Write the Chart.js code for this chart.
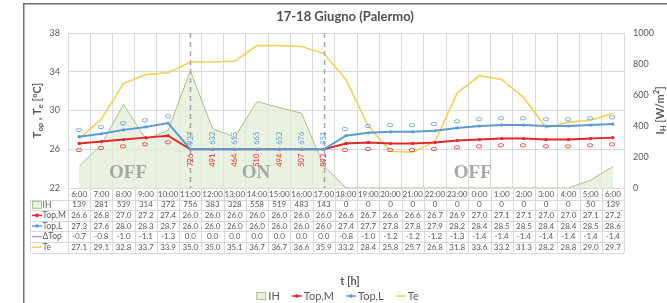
<!DOCTYPE html>
<html><head><meta charset="utf-8">
<script src="https://cdn.jsdelivr.net/npm/chart.js@4/dist/chart.umd.min.js"></script>
<style>html,body{margin:0;padding:0;background:#fff;overflow:hidden}#wrap{position:relative;width:667px;height:303px}</style>
</head><body><div id="wrap"><canvas id="c" width="667" height="303"></canvas></div>
<script>
const categories = ['6:00','7:00','8:00','9:00','10:00','11:00','12:00','13:00','14:00','15:00','16:00','17:00','18:00','19:00','20:00','21:00','22:00','23:00','0:00','1:00','2:00','3:00','4:00','5:00','6:00'];
const ihValues = [139,281,539,314,372,756,383,328,558,519,483,143,0,0,0,0,0,0,0,0,0,0,0,50,139];
const topM = [26.6,26.8,27.0,27.2,27.4,26.0,26.0,26.0,26.0,26.0,26.0,26.0,26.6,26.7,26.6,26.6,26.7,26.9,27.0,27.1,27.1,27.0,27.0,27.1,27.2];
const topL = [27.3,27.6,28.0,28.3,28.7,26.0,26.0,26.0,26.0,26.0,26.0,26.0,27.4,27.7,27.8,27.8,27.9,28.2,28.4,28.5,28.5,28.4,28.4,28.5,28.6];
const deltaTop = [-0.7,-0.8,-1.0,-1.1,-1.3,0.0,0.0,0.0,0.0,0.0,0.0,0.0,-0.8,-1.0,-1.2,-1.2,-1.2,-1.3,-1.4,-1.4,-1.4,-1.4,-1.4,-1.4,-1.4];
const teValues = [27.1,29.1,32.8,33.7,33.9,35.0,35.0,35.1,36.7,36.7,36.6,35.9,33.2,28.4,25.8,25.7,26.8,31.8,33.6,33.2,31.3,28.2,28.8,29.0,29.7];
const labelsTopL = [0,0,0,0,0,927,632,615,665,652,676,951,0,0,0,0,0,0,0,0,0,0,0,0,0];
const labelsTopM = [0,0,0,0,0,726,491,464,510,494,507,892,0,0,0,0,0,0,0,0,0,0,0,0,0];
const leftTicks = [22,26,30,34,38];
const rightTicks = [0,200,400,600,800,1000];
const phaseTexts = ['OFF','ON','OFF'];
const switchCategories = [5,11];

const FONT = 'Lato, "Liberation Sans", sans-serif';
const GRAY = '#595959';
const GRID = '#d9d9d9';
const RED = '#e3262b';
const BLUE = '#5b9bd5';
const YEL = '#f4cf5a';
const GREEN_FILL = 'rgba(226,238,214,0.75)';
const GREEN_LINE = '#a9c18a';
const PURPLE = '#a5a0cf';

function drawRich(ctx, parts, size, cx, cy, rot) {
  ctx.save();
  ctx.translate(cx, cy);
  if (rot) ctx.rotate(rot);
  let total = 0;
  const segs = parts.map(p => {
    const s = p.s ? size * 0.7 : size;
    ctx.font = 'bold ' + s + 'px ' + FONT;
    const w = ctx.measureText(p.t).width;
    total += w;
    return {p, s, w};
  });
  let x = -total / 2;
  ctx.textBaseline = 'middle';
  ctx.textAlign = 'left';
  ctx.fillStyle = GRAY;
  segs.forEach(g => {
    ctx.font = 'bold ' + g.s + 'px ' + FONT;
    let dy = 0;
    if (g.p.s === 'sub') dy = size * 0.3;
    if (g.p.s === 'sup') dy = -size * 0.35;
    ctx.fillText(g.p.t, x, dy);
    x += g.w;
  });
  ctx.restore();
}

function drawKey(ctx, type, color, x, y) {
  ctx.save();
  if (type === 'box') {
    ctx.fillStyle = GREEN_FILL;
    ctx.strokeStyle = GREEN_LINE;
    ctx.lineWidth = 1;
    ctx.fillRect(x + 0.5, y - 3.5, 9, 7);
    ctx.strokeRect(x + 0.5, y - 3.5, 9, 7);
  } else {
    ctx.strokeStyle = color;
    ctx.lineWidth = 1.5;
    ctx.beginPath(); ctx.moveTo(x, y); ctx.lineTo(x + 10, y); ctx.stroke();
    if (type === 'lm') {
      ctx.fillStyle = color;
      ctx.beginPath(); ctx.arc(x + 5, y, 1.8, 0, Math.PI * 2); ctx.fill();
    }
  }
  ctx.restore();
}

const decor = {
  id: 'decor',
  beforeDraw(chart) {
    const ctx = chart.ctx;
    ctx.save();
    ctx.fillStyle = '#fff';
    ctx.fillRect(0, 0, chart.width, chart.height);
    ctx.restore();
  },
  afterDatasetsDraw(chart) {
    const ctx = chart.ctx;
    const xs = chart.scales.x, ys = chart.scales.y;
    const area = chart.chartArea;
    ctx.save();
    ctx.strokeStyle = '#a6a6a6';
    ctx.lineWidth = 1.5;
    ctx.setLineDash([5, 4]);
    switchCategories.forEach(i => {
      const px = Math.round(xs.getPixelForValue(i)) + 0.5;
      ctx.beginPath(); ctx.moveTo(px, area.top); ctx.lineTo(px, area.bottom); ctx.stroke();
    });
    ctx.setLineDash([]);
    const phasePos = [2.2, 7.95, 17.7];
    ctx.font = 'bold 19px "Liberation Serif", "DejaVu Serif", serif';
    ctx.fillStyle = '#a6a6a6';
    ctx.textAlign = 'center';
    ctx.textBaseline = 'middle';
    phaseTexts.forEach((t, k) => {
      ctx.fillText(t, xs.getPixelForValue(phasePos[k]), ys.getPixelForValue(23.55));
    });
    ctx.font = '7.5px ' + FONT;
    ctx.textBaseline = 'middle';
    categories.forEach((c, i) => {
      const px = xs.getPixelForValue(i);
      ctx.save();
      ctx.translate(px, ys.getPixelForValue(topL[i]) - 4.5);
      ctx.rotate(-Math.PI / 2);
      ctx.textAlign = 'left';
      ctx.fillStyle = BLUE;
      ctx.fillText(String(labelsTopL[i]), 0, 0);
      ctx.restore();
      ctx.save();
      ctx.translate(px, ys.getPixelForValue(topM[i]) + 4.5);
      ctx.rotate(-Math.PI / 2);
      ctx.textAlign = 'right';
      ctx.fillStyle = RED;
      ctx.fillText(String(labelsTopM[i]), 0, 0);
      ctx.restore();
    });
    ctx.restore();
  },
  afterDraw(chart) {
    const ctx = chart.ctx;
    const xs = chart.scales.x;
    const area = chart.chartArea;
    ctx.save();
    const top = area.bottom;
    const headerBottom = top + 11.5;
    const rowH = 10.6;
    const rows = [
      {name: 'IH', key: 'box', color: GREEN_LINE, vals: ihValues, fmt: v => String(v)},
      {name: 'Top,M', key: 'lm', color: RED, vals: topM, fmt: v => v.toFixed(1)},
      {name: 'Top,L', key: 'lm', color: BLUE, vals: topL, fmt: v => v.toFixed(1)},
      {name: '\u0394Top', key: 'l', color: PURPLE, vals: deltaTop, fmt: v => v.toFixed(1)},
      {name: 'Te', key: 'l', color: YEL, vals: teValues, fmt: v => v.toFixed(1)}
    ];
    const tableBottom = headerBottom + rows.length * rowH;
    const leftCol = 30.5;
    const right = Math.round(xs.getPixelForValue(categories.length - 0.5)) + 0.5;
    ctx.strokeStyle = GRID;
    ctx.lineWidth = 1;
    for (let i = 0; i <= categories.length; i++) {
      const bx = Math.round(xs.getPixelForValue(i - 0.5)) + 0.5;
      ctx.beginPath(); ctx.moveTo(bx, top); ctx.lineTo(bx, tableBottom); ctx.stroke();
    }
    ctx.beginPath(); ctx.moveTo(leftCol, headerBottom); ctx.lineTo(leftCol, tableBottom); ctx.stroke();
    for (let r = 0; r <= rows.length; r++) {
      const yy = Math.round(headerBottom + r * rowH) + 0.5;
      ctx.beginPath(); ctx.moveTo(leftCol, yy); ctx.lineTo(right, yy); ctx.stroke();
    }
    ctx.textBaseline = 'middle';
    rows.forEach((row, r) => {
      const cy = headerBottom + r * rowH + rowH / 2;
      drawKey(ctx, row.key, row.color, 32, cy);
      ctx.fillStyle = GRAY;
      ctx.textAlign = 'left';
      ctx.font = '8.5px ' + FONT;
      ctx.fillText(row.name, 42.5, cy);
      ctx.font = '8px ' + FONT;
      ctx.textAlign = 'center';
      row.vals.forEach((v, i) => {
        ctx.fillText(row.fmt(v), xs.getPixelForValue(i), cy);
      });
    });
    drawRich(ctx, [{t: 'T'}, {t: 'op', s: 'sub'}, {t: ' , T'}, {t: 'e', s: 'sub'}, {t: ' [\u00B0C]'}], 11, 37, (area.top + area.bottom) / 2, -Math.PI / 2);
    drawRich(ctx, [{t: 'I'}, {t: 'H', s: 'sub'}, {t: ' [W/m'}, {t: '2', s: 'sup'}, {t: ']'}], 11, 660, (area.top + area.bottom) / 2, -Math.PI / 2);
    drawRich(ctx, [{t: 't [h]'}], 11, (area.left + area.right) / 2 + 4, 281, 0);
    const items = [
      {key: 'box', color: GREEN_LINE, text: 'IH'},
      {key: 'lm', color: RED, text: 'Top,M'},
      {key: 'lm', color: BLUE, text: 'Top,L'},
      {key: 'l', color: YEL, text: 'Te'}
    ];
    ctx.font = '11px ' + FONT;
    const widths = items.map(it => 10 + 2 + ctx.measureText(it.text).width);
    const gap = 12;
    const total = widths.reduce((a, b) => a + b, 0) + gap * (items.length - 1);
    let lx = 337.5 - total / 2;
    const ly = 296;
    items.forEach((it, k) => {
      drawKey(ctx, it.key, it.color, lx, ly);
      ctx.fillStyle = GRAY;
      ctx.textAlign = 'left';
      ctx.textBaseline = 'middle';
      ctx.font = '11px ' + FONT;
      ctx.fillText(it.text, lx + 12, ly);
      lx += widths[k] + gap;
    });
    ctx.strokeStyle = '#6f6f6f';
    ctx.lineWidth = 1.5;
    ctx.beginPath();
    ctx.moveTo(23.75, chart.height);
    ctx.lineTo(23.75, 3.75);
    ctx.lineTo(chart.width, 3.75);
    ctx.stroke();
    ctx.restore();
  }
};

new Chart(document.getElementById('c'), {
  type: 'line',
  data: {
    labels: categories,
    datasets: [
      {label: 'IH', data: ihValues, yAxisID: 'y1', fill: 'origin', backgroundColor: GREEN_FILL, borderColor: GREEN_LINE, borderWidth: 1, pointRadius: 0, tension: 0, order: 4},
      {label: 'Te', data: teValues, yAxisID: 'y', borderColor: YEL, borderWidth: 1.6, pointRadius: 0, tension: 0, fill: false, order: 3},
      {label: 'Top,M', data: topM, yAxisID: 'y', borderColor: RED, backgroundColor: RED, borderWidth: 2, pointRadius: 1.6, pointBorderWidth: 0, tension: 0, fill: false, order: 2},
      {label: 'Top,L', data: topL, yAxisID: 'y', borderColor: BLUE, backgroundColor: BLUE, borderWidth: 2, pointRadius: 1.6, pointBorderWidth: 0, tension: 0, fill: false, order: 1}
    ]
  },
  options: {
    responsive: false,
    animation: false,
    devicePixelRatio: 1,
    layout: {padding: {left: 23, top: 4, right: 0, bottom: 0}},
    plugins: {
      legend: {display: false},
      tooltip: {enabled: false},
      title: {display: true, text: '17-18 Giugno (Palermo)', color: '#505050', font: {family: FONT, size: 13, weight: 'bold'}, padding: {top: 5, bottom: 8.4}}
    },
    scales: {
      x: {
        type: 'category', offset: true,
        grid: {offset: true, color: GRID, drawTicks: false},
        border: {display: false},
        ticks: {color: GRAY, font: {family: FONT, size: 8}, padding: 2, autoSkip: false, maxRotation: 0, minRotation: 0},
        afterFit(s) { s.height = 115; }
      },
      y: {
        position: 'left', min: leftTicks[0], max: leftTicks[leftTicks.length - 1],
        afterBuildTicks(s) { s.ticks = leftTicks.map(v => ({value: v})); },
        ticks: {color: GRAY, font: {family: FONT, size: 9}, padding: 8, callback: v => String(v)},
        grid: {color: GRID, drawTicks: false},
        border: {display: false},
        afterFit(s) { s.width = 45; }
      },
      y1: {
        position: 'right', min: rightTicks[0], max: rightTicks[rightTicks.length - 1],
        afterBuildTicks(s) { s.ticks = rightTicks.map(v => ({value: v})); },
        ticks: {color: GRAY, font: {family: FONT, size: 9}, padding: 9, callback: v => String(v)},
        grid: {display: false, drawTicks: false},
        border: {display: false},
        afterFit(s) { s.width = 43; }
      }
    }
  },
  plugins: [decor]
});
</script></body></html>
